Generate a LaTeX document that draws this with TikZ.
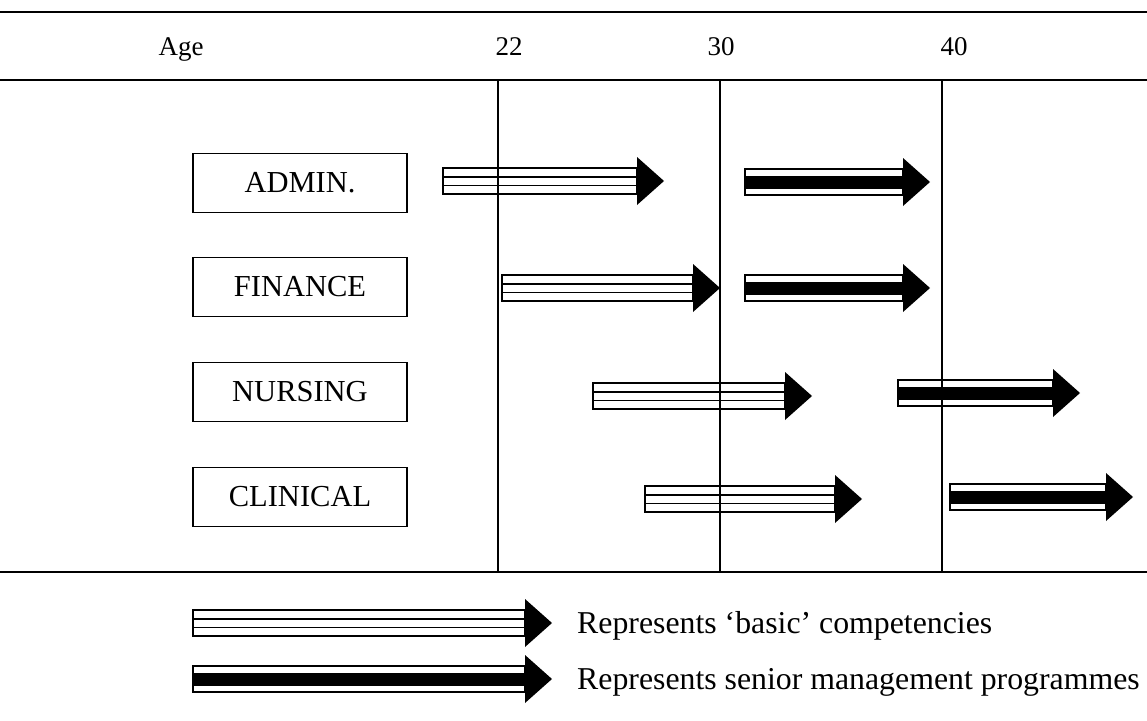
\documentclass[tikz,border=0pt]{standalone}
\usepackage{fontspec}
\setmainfont{Liberation Serif}
\newcommand\basicarrow[3]{%
  \draw[line width=1.7pt] ({#1},{#3-13}) rectangle ({#2},{#3+13});
  \draw[line width=1.6pt] ({#1},{#3-4.3}) -- ({#2},{#3-4.3});
  \draw[line width=1.6pt] ({#1},{#3+4.3}) -- ({#2},{#3+4.3});
  \fill ({#2},{#3-24}) -- ({#2+27},{#3}) -- ({#2},{#3+24}) -- cycle;}
\newcommand\seniorarrow[3]{%
  \draw[line width=1.7pt] ({#1},{#3-13}) rectangle ({#2},{#3+13});
  \fill ({#1},{#3-6.5}) rectangle ({#2},{#3+6.5});
  \fill ({#2},{#3-24}) -- ({#2+27},{#3}) -- ({#2},{#3+24}) -- cycle;}
\begin{document}
\begin{tikzpicture}[x=1pt,y=-1pt,
  hdr/.style={anchor=base, font=\fontsize{27}{30}\selectfont, inner sep=0pt},
  dept/.style={draw, line width=1.6pt, minimum width=214pt, minimum height=59pt, inner sep=0pt, font=\fontsize{30.5}{34}\selectfont},
  legtext/.style={anchor=west, inner sep=0pt, font=\fontsize{31.8}{35}\selectfont},
  rule/.style={line width=1.6pt}]
\useasboundingbox (0,0) rectangle (1147,720);
% rules
\draw[line width=2pt] (0,12) -- (1147,12);
\draw[rule] (0,80) -- (1147,80);
\draw[rule] (0,572) -- (1147,572);
\foreach \x in {498,720,942} \draw[line width=1.3pt] (\x,80) -- (\x,572);
% header
\node[hdr] (age) at (181,55) {Age};
\node[hdr] (a22) at (509,55) {22};
\node[hdr] (a30) at (721,55) {30};
\node[hdr] (a40) at (954,55) {40};
% departments
\node[dept] (admin) at (300,183) {ADMIN.};
\node[dept] (finance) at (300,287) {FINANCE};
\node[dept] (nursing) at (300,392) {NURSING};
\node[dept] (clinical) at (300,497) {CLINICAL};
% arrows
\basicarrow{443}{637}{181}
\seniorarrow{745}{903}{182}
\basicarrow{502}{693}{288}
\seniorarrow{745}{903}{288}
\basicarrow{593}{785}{396}
\seniorarrow{898}{1053}{393}
\basicarrow{645}{835}{499}
\seniorarrow{950}{1106}{497}
% legend
\basicarrow{193}{525}{623}
\seniorarrow{193}{525}{679}
\node[legtext] (lb) at (577,626) {Represents ‘basic’ competencies};
\node[legtext] (ls) at (577,682) {Represents senior management programmes};
\end{tikzpicture}
\end{document}
